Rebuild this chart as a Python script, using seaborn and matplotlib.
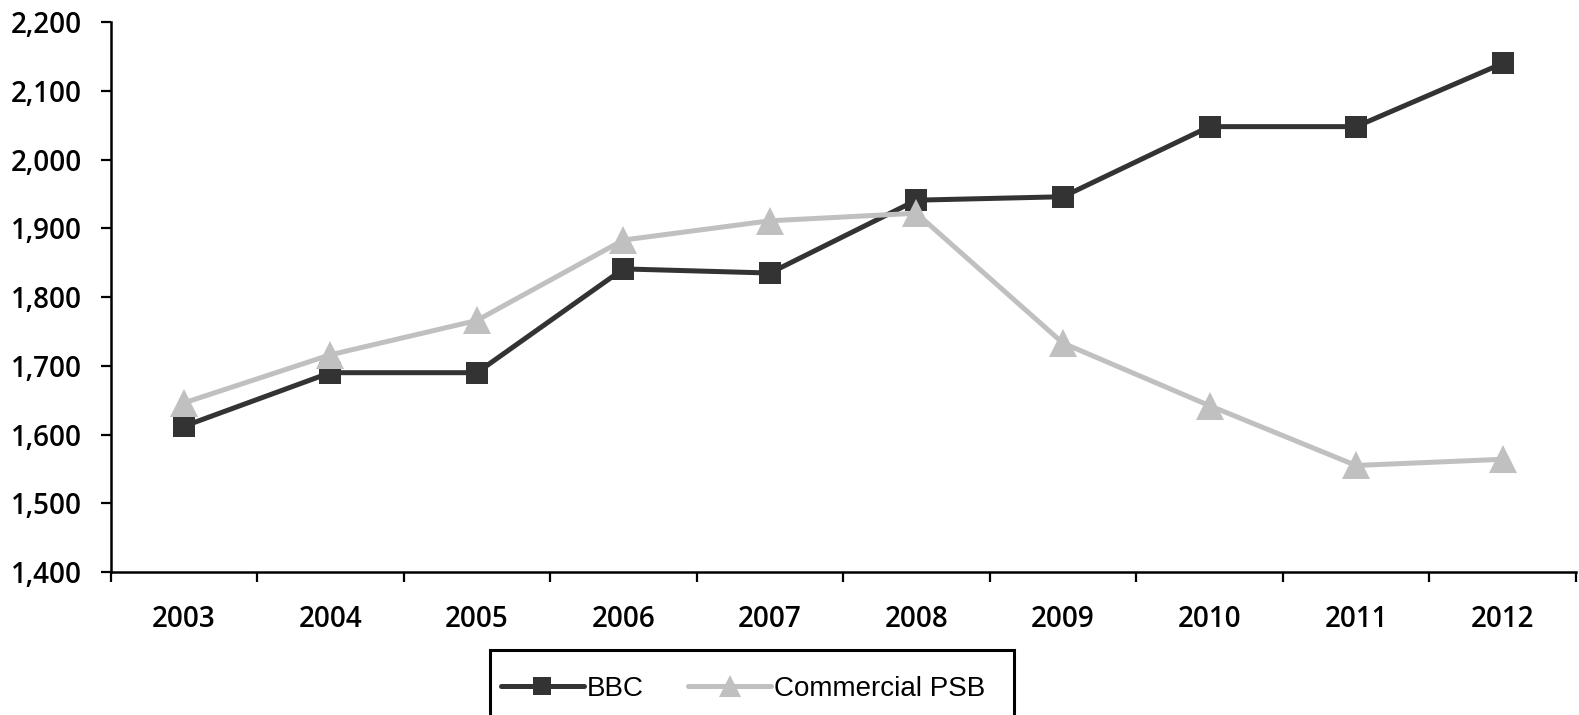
import matplotlib
matplotlib.use("Agg")
import matplotlib.pyplot as plt
from matplotlib.patches import Rectangle
import pandas as pd
import seaborn as sns

# Annual values per broadcaster group
years = ["2003", "2004", "2005", "2006", "2007", "2008", "2009", "2010", "2011", "2012"]
bbc = [1612, 1690, 1690, 1841, 1835, 1941, 1946, 2048, 2048, 2140]
commercial_psb = [1646, 1716, 1766, 1883, 1911, 1922, 1733, 1642, 1555, 1564]
series_names = ["BBC", "Commercial PSB"]
y_ticks = [1400, 1500, 1600, 1700, 1800, 1900, 2000, 2100, 2200]

df = pd.DataFrame({
    "Year": years * 2,
    "Value": bbc + commercial_psb,
    "Series": [series_names[0]] * len(years) + [series_names[1]] * len(years),
})

sns.set_theme(style="white")
plt.rcParams["font.family"] = ["Open Sans", "DejaVu Sans"]

fig = plt.figure(figsize=(15.79, 7.15), dpi=100)
ax = fig.add_axes([0.070, 0.200, 0.928, 0.769])

sns.lineplot(
    data=df, x="Year", y="Value", hue="Series", style="Series",
    hue_order=series_names, style_order=series_names,
    palette={"BBC": "#333333", "Commercial PSB": "#c0c0c0"},
    markers={"BBC": "s", "Commercial PSB": "^"},
    dashes=False, linewidth=3.6, markeredgewidth=0,
    sort=False, legend=False, ax=ax,
)
ax.lines[0].set_markersize(16)
ax.lines[1].set_markersize(20)

# Axes: left and bottom spines only
for side in ("top", "right"):
    ax.spines[side].set_visible(False)
for side in ("left", "bottom"):
    ax.spines[side].set_color("black")
    ax.spines[side].set_linewidth(1.8)

ax.set_ylim(1400, 2200)
ax.set_yticks(y_ticks)
ax.set_yticklabels([f"{v:,}" for v in y_ticks], fontweight="semibold")
ax.set_xlim(-0.5, len(years) - 0.5)

# Category boundaries carry the tick marks; labels sit at category centres
ax.set_xticks([i - 0.5 for i in range(len(years) + 1)])
ax.set_xticklabels([])
ax.set_xticks(range(len(years)), minor=True)
ax.set_xticklabels(years, minor=True, fontweight="semibold")
ax.tick_params(axis="x", which="major", direction="out", length=7.5, width=1.6,
               color="black", bottom=True)
ax.tick_params(axis="x", which="minor", length=0, pad=24, labelsize=20,
               labelcolor="black", bottom=True)
ax.tick_params(axis="y", direction="out", length=7.5, width=1.6, color="black",
               left=True, pad=13, labelsize=20, labelcolor="black")
ax.set_xlabel("")
ax.set_ylabel("")
ax.grid(False)

# Legend below the plot, in a framed box
handles = [ax.lines[0], ax.lines[1]]
leg = fig.legend(
    handles, series_names, loc="center left", bbox_to_anchor=(0.317, 0.037),
    bbox_transform=fig.transFigure, ncol=2, frameon=False,
    borderpad=0, borderaxespad=0, handlelength=3.0, handletextpad=0.1,
    columnspacing=1.6, markerscale=0.8, labelcolor="black",
    prop={"family": ["Liberation Sans", "DejaVu Sans"], "size": 20},
)
fig.patches.append(Rectangle((0.3105, -0.1), 0.3315, 0.1916,
                             transform=fig.transFigure, fill=False,
                             edgecolor="black", linewidth=2.2))

fig.savefig("out.png", dpi=100)
